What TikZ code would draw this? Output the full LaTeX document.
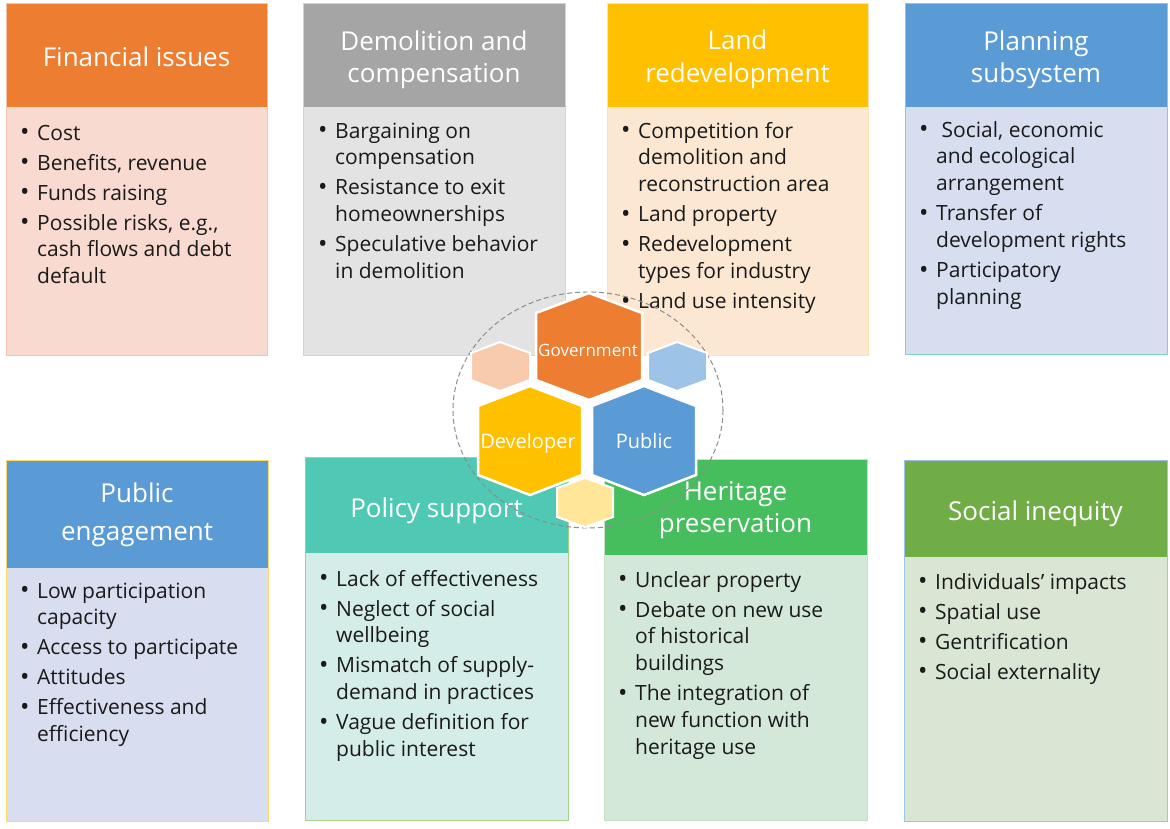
\documentclass[tikz,border=0pt]{standalone}
\usepackage{fontspec}
\setmainfont{Open Sans}
\definecolor{hA}{HTML}{ED7D31}\definecolor{bA}{HTML}{F8DAD0}\definecolor{eA}{HTML}{F4C3A8}
\definecolor{hB}{HTML}{A5A5A5}\definecolor{bB}{HTML}{E3E3E3}\definecolor{eB}{HTML}{D2D2D2}
\definecolor{hC}{HTML}{FFC000}\definecolor{bC}{HTML}{FCE8D2}\definecolor{eC}{HTML}{FBE0B8}
\definecolor{hD}{HTML}{5B9BD5}\definecolor{bD}{HTML}{D6DEF0}\definecolor{eD}{HTML}{7FD3C4}
\definecolor{hE}{HTML}{5B9BD5}\definecolor{bE}{HTML}{D8DDF0}\definecolor{eE}{HTML}{FFD966}
\definecolor{hF}{HTML}{4FC8B4}\definecolor{bF}{HTML}{D5EDE8}\definecolor{eF}{HTML}{A9D18E}
\definecolor{hG}{HTML}{47BE5E}\definecolor{bG}{HTML}{D4E8DA}\definecolor{eG}{HTML}{C5E0C4}
\definecolor{hH}{HTML}{70AD47}\definecolor{bH}{HTML}{D8E6D3}\definecolor{eH}{HTML}{9DC3E6}
\definecolor{hexO}{HTML}{ED7D31}\definecolor{hexY}{HTML}{FFC000}\definecolor{hexB}{HTML}{5B9BD5}
\definecolor{hexOl}{HTML}{F8CBAD}\definecolor{hexYl}{HTML}{FFE699}\definecolor{hexBl}{HTML}{9DC3E6}
\definecolor{bodyink}{HTML}{1A1A1A}
\definecolor{ringgrey}{HTML}{8C8C8C}
\newcommand{\mypanel}[8]{%
  \fill[#7] (#1,#2) rectangle (#3,#4);
  \fill[#6] (#1,#2) rectangle (#3,#5);
  \draw[#8, line width=0.8pt] (#1,#2) rectangle (#3,#4);
}
\newcommand{\bodyfont}{\fontsize{21}{26.8}\selectfont\raggedright\setlength{\parskip}{3.2pt}}
\newcommand{\mybullet}{\raisebox{-0.9pt}{\fontsize{25}{25}\selectfont\textbullet}}
\newcommand{\bitem}[1]{\par\noindent\hangindent=17pt\hangafter=1\makebox[17pt][l]{\mybullet}#1\par}
\newcommand{\bodytext}[4]{\node[anchor=base west, inner sep=0pt, text=bodyink] (#1) at (#2,#3) {\parbox[t]{245pt}{\bodyfont #4}};}
\newcommand{\headtext}[5]{\node[anchor=base, inner sep=0pt, text=white] (#1) at (#2,#3) {\parbox[t]{255pt}{\centering\fontsize{26}{#4}\selectfont #5}};}
\begin{document}
\begin{tikzpicture}[x=1pt,y=-1pt]
\useasboundingbox (0,0) rectangle (1170,828);
\fill[white] (0,0) rectangle (1170,828);
% panels
\mypanel{6}{3}{267}{355}{107}{hA}{bA}{eA}
\mypanel{303}{3}{565}{355}{107}{hB}{bB}{eB}
\mypanel{607}{3}{868}{355}{107}{hC}{bC}{eC}
\mypanel{905}{3}{1167}{354}{107}{hD}{bD}{eD}
\mypanel{6}{460}{268}{821}{568}{hE}{bE}{eE}
\mypanel{305}{457}{568}{820}{553}{hF}{bF}{eF}
\mypanel{604}{459}{867}{820}{555}{hG}{bG}{eG}
\mypanel{904}{460}{1167}{821}{557}{hH}{bH}{eH}
% headers
\headtext{tA}{136.5}{66}{32}{Financial issues}
\headtext{tB}{434}{50}{32}{Demolition and\\compensation}
\headtext{tC}{737.5}{49}{33}{Land\\redevelopment}
\headtext{tD}{1036}{50}{32}{Planning\\subsystem}
\headtext{tE}{137}{502}{38}{Public\\engagement}
\headtext{tF}{436.5}{517}{32}{Policy support}
\headtext{tG}{735.5}{500}{32}{Heritage\\preservation}
\headtext{tH}{1035.5}{520}{32}{Social inequity}
% bodies
\bodytext{xA}{20}{140}{\bitem{Cost}\bitem{Benefits, revenue}\bitem{Funds raising}\bitem{Possible risks, e.g.,\newline cash flows and debt\newline default}}
\bodytext{xB}{318}{138}{\bitem{Bargaining on\newline compensation}\bitem{Resistance to exit\newline homeownerships}\bitem{Speculative behavior\newline in demolition}}
\bodytext{xC}{621}{138}{\bitem{Competition for\newline demolition and\newline reconstruction area}\bitem{Land property}\bitem{Redevelopment\newline types for industry}\bitem{Land use intensity}}
\bodytext{xD}{919}{137}{\bitem{\ Social, economic\newline and ecological\newline arrangement}\bitem{Transfer of\newline development rights}\bitem{Participatory\newline planning}}
\bodytext{xE}{20}{598}{\bitem{Low participation\newline capacity}\bitem{Access to participate}\bitem{Attitudes}\bitem{Effectiveness and\newline efficiency}}
\bodytext{xF}{319}{586}{\bitem{Lack of effectiveness}\bitem{Neglect of social\newline wellbeing}\bitem{Mismatch of supply-\newline demand in practices}\bitem{Vague definition for\newline public interest}}
\bodytext{xG}{618}{587}{\bitem{Unclear property}\bitem{Debate on new use\newline of historical\newline buildings}\bitem{The integration of\newline new function with\newline heritage use}}
\bodytext{xH}{918}{589}{\bitem{Individuals’ impacts}\bitem{Spatial use}\bitem{Gentrification}\bitem{Social externality}}
% ring
\draw[ringgrey, line width=1pt, dash pattern=on 5pt off 3pt] (588,410) ellipse [x radius=135, y radius=118];
% hexagons
\tikzset{hexbig/.style={line width=2.5pt, draw=white}, hexsmall/.style={line width=2pt, draw=white}}
\filldraw[hexbig, fill=hexO] (589,293) -- (642,313) -- (642,380) -- (589,400) -- (536,380) -- (536,313) -- cycle;
\filldraw[hexbig, fill=hexY] (530,386) -- (582,406) -- (582,475) -- (530,495) -- (478,475) -- (478,406) -- cycle;
\filldraw[hexbig, fill=hexB] (644,386) -- (696,406) -- (696,475) -- (644,495) -- (592,475) -- (592,406) -- cycle;
\filldraw[hexsmall, fill=hexOl] (500,342) -- (530,353) -- (530,380) -- (500,391) -- (471,380) -- (471,353) -- cycle;
\filldraw[hexsmall, fill=hexBl] (677,342) -- (707,353) -- (707,380) -- (677,391) -- (648,380) -- (648,353) -- cycle;
\filldraw[hexsmall, fill=hexYl] (585,478) -- (613,488) -- (613,517) -- (585,527) -- (557,517) -- (557,488) -- cycle;
\node[anchor=base, inner sep=0pt, text=white, font=\fontsize{17}{20}\selectfont] (gov) at (588,356) {Government};
\node[anchor=base, inner sep=0pt, text=white, font=\fontsize{20}{24}\selectfont] (dev) at (528,448) {Developer};
\node[anchor=base, inner sep=0pt, text=white, font=\fontsize{20}{24}\selectfont] (pub) at (644,448) {Public};
\end{tikzpicture}
\end{document}
